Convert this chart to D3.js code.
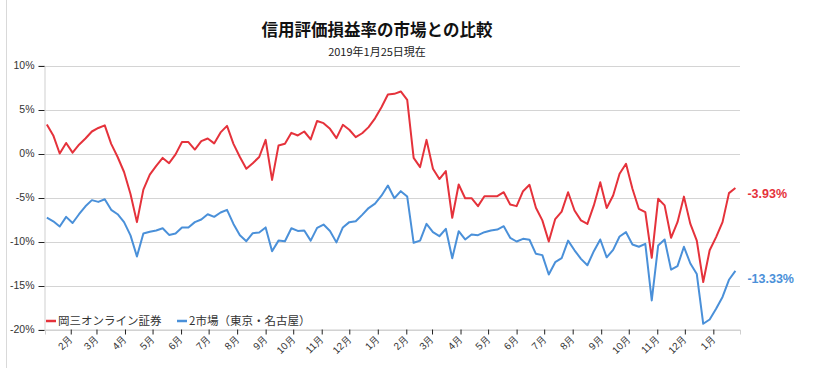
<!DOCTYPE html>
<html><head><meta charset="utf-8">
<script src="https://cdn.jsdelivr.net/npm/d3@7"></script>
<style>
body{margin:0;background:#fff;}
svg{display:block;font-family:"Noto Sans CJK JP","Liberation Sans",sans-serif;}
</style></head>
<body><svg id="c" width="827" height="368"></svg>
<script>
const title = "信用評価損益率の市場との比較";
const subtitle = "2019年1月25日現在";
const seriesNames = ["岡三オンライン証券", "2市場（東京・名古屋）"];
const startDate = "2017-01-06"; // weekly (Fridays) to 2019-01-25
const okasan = [3.3,2.05,0.0,1.2,0.1,1.0,1.7,2.5,2.9,3.2,1.1,-0.4,-2.1,-4.6,-7.8,-4.1,-2.4,-1.4,-0.5,-1.1,
 -0.1,1.3,1.3,0.45,1.4,1.7,1.15,2.4,3.14,1.1,-0.4,-1.74,-1.1,-0.4,1.55,-3.0,0.9,1.1,2.35,2.05,
 2.5,1.6,3.7,3.45,2.8,1.75,3.26,2.7,1.85,2.3,3.0,4.0,5.26,6.7,6.78,7.05,6.1,-0.5,-1.55,1.55,
 -1.74,-2.9,-2.0,-7.3,-3.52,-5.08,-5.08,-5.98,-4.85,-4.85,-4.85,-4.4,-5.8,-5.98,-4.28,-3.56,-6.17,-7.6,-10.0,-7.45,
 -6.6,-4.4,-6.48,-7.6,-8.0,-5.9,-3.26,-6.2,-4.77,-2.3,-1.17,-4.0,-6.3,-6.67,-11.85,-5.15,-5.9,-9.58,-7.8,-4.9,
 -8.0,-9.9,-14.6,-11.0,-9.5,-7.8,-4.5,-3.93];
const market = [-7.3,-7.7,-8.3,-7.2,-7.9,-6.9,-6.0,-5.3,-5.5,-5.2,-6.4,-6.9,-7.8,-9.3,-11.7,-9.1,-8.9,-8.75,-8.5,-9.25,
 -9.1,-8.4,-8.4,-7.8,-7.5,-6.9,-7.2,-6.7,-6.4,-8.0,-9.3,-9.97,-9.05,-8.98,-8.4,-11.1,-9.9,-9.97,-8.5,-8.8,
 -8.75,-9.9,-8.45,-8.07,-8.8,-10.1,-8.4,-7.8,-7.7,-6.97,-6.2,-5.7,-4.8,-3.64,-5.08,-4.28,-4.89,-10.15,-9.9,-8.0,
 -8.94,-9.4,-8.56,-11.9,-8.83,-9.77,-9.2,-9.28,-8.94,-8.75,-8.64,-8.26,-9.58,-10.0,-9.7,-9.8,-11.4,-11.55,-13.75,-12.35,
 -11.9,-9.9,-11.0,-11.97,-12.7,-11.1,-9.77,-11.8,-10.95,-9.43,-8.94,-10.34,-10.6,-10.27,-16.7,-10.45,-9.77,-13.2,-12.8,-10.6,
 -12.5,-13.7,-19.35,-18.86,-17.65,-16.3,-14.35,-13.33];
const yTicks = [10,5,0,-5,-10,-15,-20];
const xDomain = ["2017-01-04","2019-01-30"];
const colors = ["#e5323b","#4a90d9"];

const svg = d3.select("#c");
const parse = d3.utcParse("%Y-%m-%d");
const d0 = parse(startDate);
const dates = okasan.map((_,i)=>d3.utcDay.offset(d0,7*i));

const x = d3.scaleUtc().domain(xDomain.map(parse)).range([45,740]);
const y = d3.scaleLinear().domain([-20,10]).range([329.5,65.5]);

// left border
svg.append("line").attr("x1",6.5).attr("x2",6.5).attr("y1",0).attr("y2",368).attr("stroke","#d9d9d9");

// gridlines
svg.append("g").selectAll("line").data(yTicks).join("line")
  .attr("x1",45).attr("x2",740).attr("y1",d=>Math.round(y(d))+0.5).attr("y2",d=>Math.round(y(d))+0.5)
  .attr("stroke","#d4d4d4").attr("stroke-width",1);

// y axis
const ya = svg.append("g").attr("transform","translate(44.5,0)")
  .call(d3.axisLeft(y).tickValues(yTicks).tickSize(6).tickPadding(4).tickFormat(d=>d+"%"));
ya.select(".domain").attr("stroke","#cfcfcf");
ya.selectAll(".tick line").attr("stroke","#222").attr("transform","translate(0,0.5)");
ya.selectAll("text").attr("font-family","'Liberation Sans',Arial,sans-serif").attr("font-size",10.5).attr("fill","#333");

// x axis
const months = d3.utcMonth.range(d3.utcMonth.ceil(x.domain()[0]), x.domain()[1]);
const xa = svg.append("g").attr("transform","translate(0,329.5)")
  .call(d3.axisBottom(x).tickValues(months).tickSize(5).tickFormat(d=>(d.getUTCMonth()+1)+"月"));
xa.select(".domain").attr("stroke","#cfcfcf");
xa.selectAll(".tick line").attr("stroke","#222");
xa.selectAll("text").attr("font-size",10).attr("fill","#333")
  .attr("text-anchor","end").attr("x",0).attr("y",0).attr("dy",0).attr("dx",0)
  .attr("transform","translate(2,10) rotate(-45)");

// lines
const line = d3.line().x((d,i)=>x(dates[i])).y(d=>y(d));
[okasan, market].forEach((s,k)=>{
  svg.append("path").datum(s).attr("d",line).attr("fill","none")
    .attr("stroke",colors[k]).attr("stroke-width",2).attr("stroke-linejoin","round");
});

// end labels
const lastI = okasan.length-1;
[[okasan,10],[market,12.5]].forEach(([s,off],k)=>{
  svg.append("text").attr("x",x(dates[lastI])+12).attr("y",y(s[lastI])+off)
    .attr("fill",colors[k]).attr("font-family","'Liberation Sans',Arial,sans-serif")
    .attr("font-weight","bold").attr("font-size",12.5)
    .text(s[lastI].toFixed(2)+"%");
});

// legend
const lg = svg.append("g");
const legX = [46,177];
seriesNames.forEach((n,k)=>{
  lg.append("line").attr("x1",legX[k]).attr("x2",legX[k]+10).attr("y1",321).attr("y2",321)
    .attr("stroke",colors[k]).attr("stroke-width",2.5);
  lg.append("text").attr("x",legX[k]+12).attr("y",325).attr("font-size",11.5).attr("fill","#333").text(n);
});

// titles
svg.append("text").attr("x",377).attr("y",36).attr("text-anchor","middle")
  .attr("font-size",16.5).attr("font-weight","bold").attr("fill","#111").text(title);
svg.append("text").attr("x",377).attr("y",56).attr("text-anchor","middle")
  .attr("font-size",11).attr("fill","#222").text(subtitle);
</script></body></html>
